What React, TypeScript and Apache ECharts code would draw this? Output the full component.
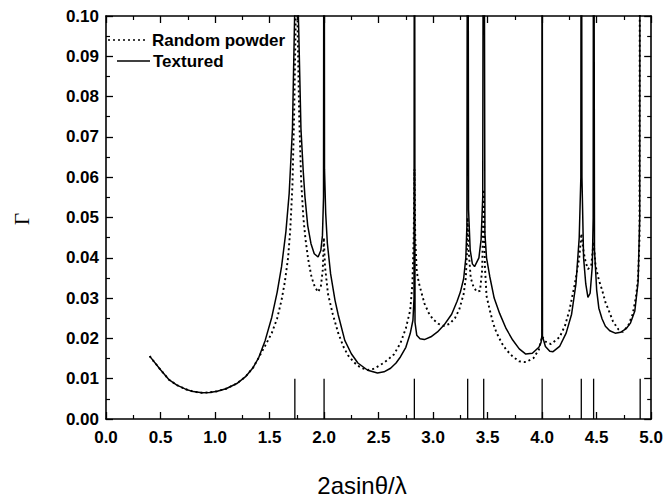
import React, { useEffect, useRef } from "react";
import * as echarts from "echarts";

// Textured sample: [2a sinθ/λ, Γ]
const texturedCurve: [number, number][] = [
  [0.40, 0.0156], [0.50, 0.0122], [0.58, 0.0097], [0.65, 0.0084], [0.73, 0.0074],
  [0.80, 0.0068], [0.88, 0.0065], [0.95, 0.0066], [1.02, 0.0069], [1.10, 0.0075],
  [1.20, 0.0088], [1.28, 0.0105], [1.35, 0.0128], [1.40, 0.0152], [1.46, 0.0195],
  [1.52, 0.0252], [1.57, 0.0315], [1.61, 0.0378], [1.65, 0.0465], [1.68, 0.056],
  [1.71, 0.072], [1.727, 0.096], [1.745, 0.12], [1.768, 0.096], [1.788, 0.072],
  [1.81, 0.061], [1.825, 0.055], [1.85, 0.048], [1.88, 0.0435], [1.91, 0.041],
  [1.945, 0.0402], [1.97, 0.0418], [1.985, 0.0455], [1.995, 0.055], [2.0, 0.2],
  [2.004, 0.062], [2.015, 0.051], [2.03, 0.0436], [2.06, 0.036], [2.10, 0.0295],
  [2.13, 0.0258], [2.19, 0.0195], [2.25, 0.0162], [2.31, 0.0139], [2.40, 0.0121],
  [2.49, 0.0114], [2.55, 0.0117], [2.61, 0.0126], [2.66, 0.0139], [2.70, 0.0154],
  [2.75, 0.0178], [2.79, 0.0212], [2.815, 0.0245], [2.825, 0.03], [2.829, 0.2],
  [2.834, 0.024], [2.85, 0.0208], [2.88, 0.0199], [2.92, 0.0197], [2.98, 0.0204],
  [3.04, 0.0216], [3.10, 0.0233], [3.17, 0.026], [3.22, 0.0292], [3.25, 0.0315],
  [3.28, 0.0348], [3.30, 0.040], [3.31, 0.048], [3.317, 0.2], [3.325, 0.052],
  [3.34, 0.042], [3.36, 0.0385], [3.38, 0.0378], [3.42, 0.040], [3.44, 0.0445],
  [3.455, 0.055], [3.464, 0.2], [3.475, 0.046], [3.49, 0.040], [3.52, 0.0353],
  [3.56, 0.030], [3.61, 0.0262], [3.67, 0.0224], [3.73, 0.0196], [3.79, 0.0174],
  [3.85, 0.0161], [3.91, 0.0163], [3.97, 0.0178], [3.99, 0.019], [3.997, 0.0205],
  [4.0, 0.2], [4.003, 0.0205], [4.03, 0.018], [4.07, 0.0168], [4.10, 0.0167],
  [4.16, 0.018], [4.22, 0.0213], [4.27, 0.026], [4.31, 0.0335], [4.34, 0.045],
  [4.355, 0.06], [4.359, 0.2], [4.365, 0.06], [4.38, 0.040], [4.40, 0.0335],
  [4.42, 0.0302], [4.44, 0.0312], [4.46, 0.038], [4.468, 0.05], [4.472, 0.2],
  [4.48, 0.042], [4.50, 0.032], [4.52, 0.0275], [4.55, 0.0248], [4.58, 0.023],
  [4.62, 0.0219], [4.67, 0.0213], [4.72, 0.0215], [4.77, 0.0224], [4.81, 0.0238],
  [4.85, 0.0268], [4.88, 0.034], [4.895, 0.05], [4.899, 0.2],
];

// Random powder: [2a sinθ/λ, Γ]
const powderCurve: [number, number][] = [
  [0.40, 0.0156], [0.50, 0.0122], [0.58, 0.0097], [0.65, 0.0084], [0.73, 0.0074],
  [0.80, 0.0068], [0.88, 0.0065], [0.95, 0.0066], [1.02, 0.0069], [1.10, 0.0075],
  [1.20, 0.0088], [1.28, 0.0105], [1.35, 0.0128], [1.40, 0.0152], [1.46, 0.0182],
  [1.52, 0.0213], [1.57, 0.025], [1.61, 0.0295], [1.64, 0.034], [1.67, 0.040],
  [1.69, 0.047], [1.71, 0.058], [1.725, 0.075], [1.738, 0.096], [1.748, 0.12],
  [1.758, 0.096], [1.772, 0.075], [1.79, 0.059], [1.81, 0.050], [1.83, 0.0445],
  [1.855, 0.0395], [1.885, 0.0352], [1.915, 0.0328], [1.945, 0.0315], [1.97, 0.0328],
  [1.988, 0.037], [1.998, 0.045], [2.008, 0.038], [2.036, 0.031], [2.08, 0.026],
  [2.13, 0.0213], [2.18, 0.0178], [2.22, 0.0158], [2.27, 0.0142], [2.31, 0.0132],
  [2.36, 0.0125], [2.40, 0.0122], [2.45, 0.0124], [2.49, 0.0130], [2.54, 0.0138],
  [2.58, 0.0146], [2.64, 0.0160], [2.70, 0.0188], [2.75, 0.0225], [2.79, 0.027],
  [2.81, 0.0335], [2.822, 0.045], [2.829, 0.062], [2.836, 0.045], [2.85, 0.0365],
  [2.87, 0.0337], [2.92, 0.0287], [2.96, 0.0263], [3.00, 0.0247], [3.05, 0.0236],
  [3.10, 0.0231], [3.15, 0.0236], [3.20, 0.025], [3.24, 0.0272], [3.28, 0.031],
  [3.30, 0.035], [3.31, 0.041], [3.317, 0.05], [3.325, 0.042], [3.345, 0.035],
  [3.37, 0.0328], [3.40, 0.0316], [3.43, 0.0318], [3.45, 0.037], [3.464, 0.057],
  [3.475, 0.038], [3.49, 0.0305], [3.52, 0.027], [3.55, 0.0238], [3.58, 0.0215],
  [3.63, 0.0188], [3.67, 0.0172], [3.73, 0.0155], [3.79, 0.0143], [3.85, 0.0141],
  [3.92, 0.0151], [3.97, 0.0172], [4.0, 0.0205], [4.03, 0.0192], [4.08, 0.0186],
  [4.16, 0.0203], [4.21, 0.0232], [4.25, 0.027], [4.30, 0.0335], [4.34, 0.040],
  [4.36, 0.046], [4.38, 0.0415], [4.40, 0.0388], [4.42, 0.0372], [4.45, 0.038],
  [4.472, 0.044], [4.49, 0.038], [4.52, 0.0345], [4.55, 0.032], [4.58, 0.029],
  [4.61, 0.027], [4.65, 0.0242], [4.70, 0.0222], [4.74, 0.0216], [4.79, 0.0232],
  [4.83, 0.026], [4.86, 0.0302], [4.88, 0.035], [4.893, 0.045], [4.899, 0.2],
];

// Bragg reflection positions (markers along the bottom)
const braggPositions: number[] = [1.732, 2.0, 2.828, 3.317, 3.464, 4.0, 4.359, 4.472, 4.899];
const braggMarkerHeight = 0.01;

const seriesNames = ["Random powder", "Textured"];
const xAxisTitle = "2asinθ/λ";
const yAxisTitle = "Γ";

export default function App() {
  const ref = useRef<HTMLDivElement>(null);

  useEffect(() => {
    if (!ref.current) return;
    const chart = echarts.init(ref.current, undefined, { renderer: "svg" });
    const font = "Liberation Sans, Arial, Helvetica, sans-serif";
    const axisLineStyle = { color: "#000", width: 1.6 };
    const baseX = {
      type: "value" as const,
      min: 0,
      max: 5,
      interval: 0.5,
      splitLine: { show: false },
      axisLine: { show: true, onZero: false, lineStyle: axisLineStyle },
      axisTick: { show: true, inside: true, length: 7, lineStyle: { color: "#000", width: 1.3 } },
      minorTick: { show: true, splitNumber: 2, length: 4, lineStyle: { color: "#000", width: 1.2 } },
    };
    const baseY = {
      type: "value" as const,
      min: 0,
      max: 0.1,
      interval: 0.01,
      splitLine: { show: false },
      axisLine: { show: true, onZero: false, lineStyle: axisLineStyle },
      axisTick: { show: true, inside: true, length: 7, lineStyle: { color: "#000", width: 1.3 } },
      minorTick: { show: true, splitNumber: 2, length: 4, lineStyle: { color: "#000", width: 1.2 } },
    };
    const labelStyle = { color: "#000", fontSize: 17, fontWeight: "bold" as const, fontFamily: font };

    chart.setOption({
      animation: false,
      backgroundColor: "#fff",
      grid: { left: 106, right: 10, top: 16, bottom: 82, containLabel: false },
      xAxis: [
        { ...baseX, position: "bottom", axisLabel: { ...labelStyle, margin: 10, formatter: (v: number) => v.toFixed(1) } },
        { ...baseX, position: "top", axisLabel: { show: false } },
      ],
      yAxis: [
        { ...baseY, position: "left", axisLabel: { ...labelStyle, margin: 7, formatter: (v: number) => v.toFixed(2) } },
        { ...baseY, position: "right", axisLabel: { show: false } },
      ],
      series: [
        {
          name: seriesNames[0],
          type: "line",
          data: powderCurve,
          showSymbol: false,
          symbol: "none",
          clip: true,
          lineStyle: { color: "#000", width: 1.9, type: [2, 3] },
          z: 2,
        },
        {
          name: seriesNames[1],
          type: "line",
          data: texturedCurve,
          showSymbol: false,
          symbol: "none",
          clip: true,
          lineStyle: { color: "#000", width: 1.5 },
          z: 3,
        },
        {
          type: "custom",
          data: braggPositions.map((x) => [x, braggMarkerHeight]),
          renderItem: (params: any, api: any) => {
            const p0 = api.coord([api.value(0), 0]);
            const p1 = api.coord([api.value(0), api.value(1)]);
            return {
              type: "line",
              shape: { x1: p0[0], y1: p0[1], x2: p1[0], y2: p1[1] },
              style: { stroke: "#000", lineWidth: 1.3 },
            };
          },
          z: 4,
        },
      ],
      graphic: [
        {
          type: "line",
          shape: { x1: 108, y1: 40, x2: 148, y2: 40 },
          style: { stroke: "#000", lineWidth: 1.6, lineDash: [2, 3] },
        },
        {
          type: "text",
          x: 152,
          y: 40,
          style: { text: seriesNames[0], font: `bold 17px ${font}`, fill: "#000", textAlign: "left", textVerticalAlign: "middle" },
        },
        {
          type: "line",
          shape: { x1: 117, y1: 61, x2: 150, y2: 61 },
          style: { stroke: "#000", lineWidth: 1.5 },
        },
        {
          type: "text",
          x: 153,
          y: 61,
          style: { text: seriesNames[1], font: `bold 17px ${font}`, fill: "#000", textAlign: "left", textVerticalAlign: "middle" },
        },
        {
          type: "text",
          x: 362,
          y: 485,
          style: { text: xAxisTitle, font: `24px ${font}`, fill: "#000", textAlign: "center", textVerticalAlign: "middle" },
        },
        {
          type: "text",
          x: 22,
          y: 219,
          rotation: Math.PI / 2,
          style: { text: yAxisTitle, font: `21px Liberation Serif, DejaVu Serif, serif`, fill: "#000", textAlign: "center", textVerticalAlign: "middle" },
        },
      ],
    });
    return () => chart.dispose();
  }, []);

  return (
    <div
      ref={ref}
      style={{ position: "fixed", left: 0, top: 0, width: 666, height: 501, background: "#fff" }}
    />
  );
}
